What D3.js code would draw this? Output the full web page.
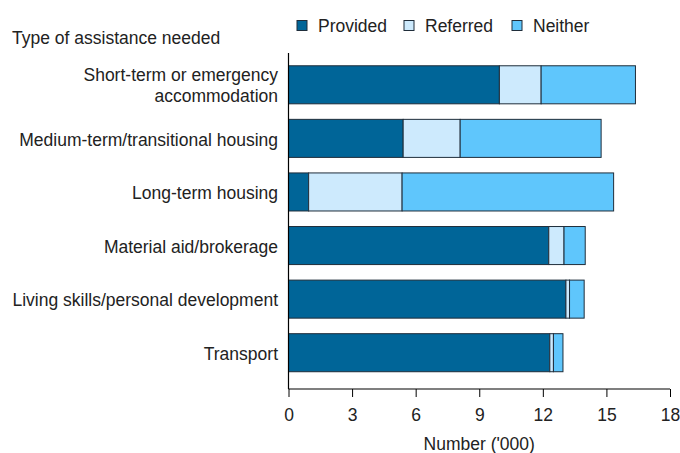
<!DOCTYPE html>
<html>
<head>
<meta charset="utf-8">
<script src="https://cdn.jsdelivr.net/npm/d3@7"></script>
<style>
  html, body { margin: 0; padding: 0; background: #fff; }
  svg { display: block; font-family: "Liberation Sans", Arial, sans-serif; }
</style>
</head>
<body>
<svg id="chart" width="680" height="453"></svg>
<script>
// Type of assistance needed (number of clients, '000)
const categories = [
  "Short-term or emergency accommodation",
  "Medium-term/transitional housing",
  "Long-term housing",
  "Material aid/brokerage",
  "Living skills/personal development",
  "Transport"
];
const provided = [9.95, 5.41, 0.95, 12.28, 13.09, 12.33];
const referred = [1.97, 2.69, 4.41, 0.72, 0.17, 0.17];
const neither  = [4.45, 6.65, 9.98, 1.00, 0.69, 0.45];
const seriesNames = ["Provided", "Referred", "Neither"];
const seriesColors = ["#006598", "#cdeafd", "#5fc6fc"];
const xTicks = [0, 3, 6, 9, 12, 15, 18];

// Line breaks used for the long category label
const labelLines = {
  "Short-term or emergency accommodation": ["Short-term or emergency", "accommodation"]
};

const FS = 17.5;
const svg = d3.select("#chart");

const rows = categories.map((c, i) => ({
  category: c, Provided: provided[i], Referred: referred[i], Neither: neither[i]
}));
const stacked = d3.stack().keys(seriesNames)(rows);

const x = d3.scaleLinear().domain([0, 18]).range([288.5, 670]);
const y = d3.scaleBand().domain(categories).range([58, 379.5])
  .paddingInner(0.29).paddingOuter(0.145);
const color = d3.scaleOrdinal().domain(seriesNames).range(seriesColors);

// Stacked bars
svg.append("g").selectAll("g").data(stacked).join("g")
  .attr("fill", d => color(d.key))
  .selectAll("rect").data(d => d).join("rect")
  .attr("x", d => x(d[0]))
  .attr("y", d => y(d.data.category))
  .attr("width", d => x(d[1]) - x(d[0]))
  .attr("height", y.bandwidth())
  .attr("stroke", "#1f2d3a")
  .attr("stroke-width", 1);

// X axis
const xAxis = svg.append("g").attr("transform", "translate(0,389)")
  .call(d3.axisBottom(x).tickValues(xTicks).tickSize(8).tickPadding(12).tickFormat(d3.format("d")));
xAxis.select(".domain").attr("stroke", "#000").attr("stroke-width", 1.2)
  .attr("d", `M${x(0)},0H${x(18)}`);
xAxis.selectAll(".tick line").attr("stroke", "#000");
xAxis.selectAll(".tick text").attr("font-size", FS).attr("fill", "#222")
  .attr("font-family", "Liberation Sans, Arial, sans-serif");

// Y axis line
svg.append("line")
  .attr("x1", x(0)).attr("x2", x(0))
  .attr("y1", 53).attr("y2", 389)
  .attr("stroke", "#000").attr("stroke-width", 1.2);

// Category labels
const labels = svg.append("g").attr("font-size", FS).attr("fill", "#222")
  .attr("text-anchor", "end");
categories.forEach(c => {
  const lines = labelLines[c] || [c];
  const cy = y(c) + y.bandwidth() / 2;
  const lh = 21;
  const t = labels.append("text").attr("x", 278);
  lines.forEach((ln, i) => {
    t.append("tspan").attr("x", 278)
      .attr("y", cy + 1 + (i - (lines.length - 1) / 2) * lh)
      .attr("dy", "0.35em").text(ln);
  });
});

// Vertical axis heading
svg.append("text").attr("x", 12).attr("y", 44)
  .attr("font-size", FS).attr("fill", "#222").text("Type of assistance needed");

// X axis title
svg.append("text").attr("x", x(9)).attr("y", 450)
  .attr("text-anchor", "middle").attr("font-size", FS).attr("fill", "#222")
  .text("Number ('000)");

// Legend
const legendX = [297, 404, 512];
const legend = svg.append("g");
seriesNames.forEach((s, i) => {
  legend.append("rect")
    .attr("x", legendX[i]).attr("y", 20.5).attr("width", 10).attr("height", 10)
    .attr("fill", color(s)).attr("stroke", "#1f2d3a").attr("stroke-width", 1);
  legend.append("text")
    .attr("x", legendX[i] + 21).attr("y", 25.5).attr("dy", "0.35em")
    .attr("font-size", FS).attr("fill", "#222").text(s);
});
</script>
</body>
</html>
